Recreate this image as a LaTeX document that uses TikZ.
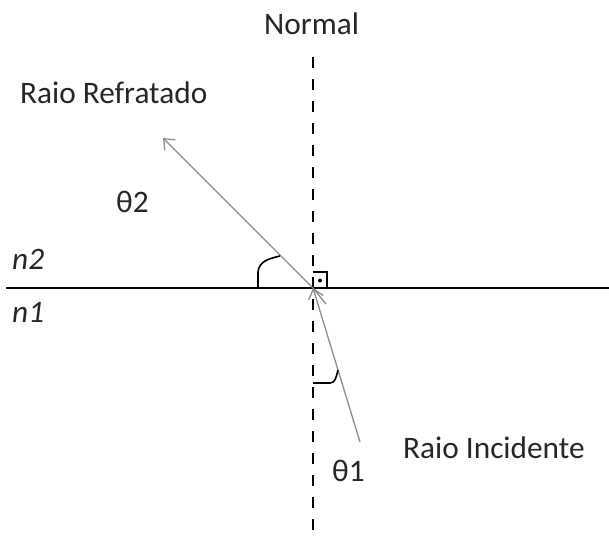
\documentclass[tikz,border=0pt]{standalone}
\usepackage{fontspec}
\setmainfont{Carlito}
\usetikzlibrary{arrows.meta}
\tikzset{
  lbl/.style={inner sep=0pt, font=\fontsize{31.3}{37}\selectfont, text=black!85},
  ray/.style={draw=black!45, line width=1.3pt, -{Straight Barb[length=9pt,width=15pt,line width=1.3pt]}},
  anglemark/.style={draw=black, line width=1.6pt},
}
\begin{document}
\begin{tikzpicture}[x=1pt,y=-1pt]
\useasboundingbox (0,0) rectangle (609,536);
\coordinate (O) at (313,288);
\coordinate (L) at (6,288);
\coordinate (R) at (609,288);
\coordinate (T) at (313,57);
\coordinate (B) at (313,536);
\coordinate (RefEnd) at (163,138);
\coordinate (RefTail) at (326,304);
\coordinate (IncStart) at (360,442);
% interface and normal
\draw[line width=1.7pt] (L) -- (R);
\draw[line width=1.7pt, dash pattern=on 11pt off 11pt] (T) -- (B);
% right-angle mark
\draw[line width=1.5pt] (O) ++(0,-16) coordinate (s1) -- ++(14,0) coordinate (s2) -- ++(0,16);
\fill (320,280.5) circle (2pt);
% refracted ray
\draw[draw=black!45, line width=1.3pt] (O) -- (RefTail);
\draw[ray] (O) -- (RefEnd);
% incident ray
\draw[ray] (IncStart) -- (O);
% angle marks
\draw[anglemark] (258,288) -- (258,272) .. controls (259,262) and (267,259) .. (280,256);
\draw[anglemark] (313,383) -- (330,383) .. controls (335,383) and (336,378) .. (338,370);
% labels
\node[lbl, anchor=base west] (normal) at (264,34) {Normal};
\node[lbl, anchor=base west] (refr) at (20,103) {Raio Refratado};
\node[lbl, anchor=base west] (inc) at (403,458) {Raio Incidente};
\node[lbl, anchor=base west] (t2) at (116,212) {θ2};
\node[lbl, anchor=base west] (t1) at (332,481) {θ1};
\node[lbl, anchor=base west] (n2) at (12,269) {\itshape n2};
\node[lbl, anchor=base west] (n1) at (12,322) {\itshape n1};
\end{tikzpicture}
\end{document}
